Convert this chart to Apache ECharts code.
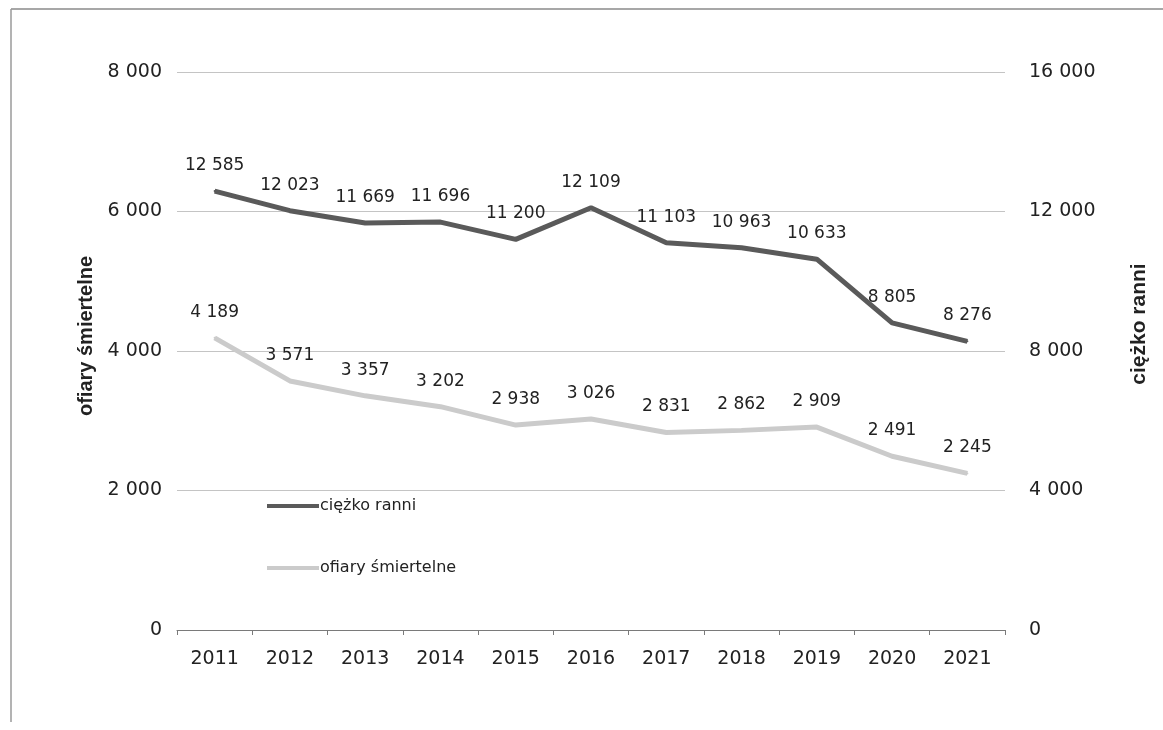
<!DOCTYPE html>
<html>
<head>
<meta charset="utf-8">
<script src="https://cdn.jsdelivr.net/npm/echarts@6/dist/echarts.min.js"></script>
<style>
  html, body { margin: 0; padding: 0; background: #fff; }
  #chart { width: 1163px; height: 730px; }
</style>
</head>
<body>
<div id="chart"></div>
<script>
  // lata
  var years = ['2011', '2012', '2013', '2014', '2015', '2016', '2017', '2018', '2019', '2020', '2021'];
  // ciężko ranni (prawa oś)
  var ciezkoRanni = [12585, 12023, 11669, 11696, 11200, 12109, 11103, 10963, 10633, 8805, 8276];
  // ofiary śmiertelne (lewa oś)
  var ofiarySmiertelne = [4189, 3571, 3357, 3202, 2938, 3026, 2831, 2862, 2909, 2491, 2245];

  function fmt (v) {
    return String(v).replace(/\B(?=(\d{3})+(?!\d))/g, ' ');
  }

  var chart = echarts.init(document.getElementById('chart'));

  var option = {
    animation: false,
    backgroundColor: '#fff',
    textStyle: { fontFamily: 'DejaVu Sans' },
    grid: { left: 177, right: 158, top: 72, bottom: 100, containLabel: false },
    legend: {
      orient: 'vertical',
      left: 262,
      top: 493,
      itemGap: 46,
      itemWidth: 52,
      itemHeight: 4,
      icon: 'rect',
      textStyle: { fontFamily: 'DejaVu Sans', fontSize: 16, color: '#222', padding: [0, 0, 0, -4] },
      data: ['ciężko ranni', 'ofiary śmiertelne']
    },
    graphic: [
      { type: 'line', shape: { x1: 11, y1: 9, x2: 1163, y2: 9 }, style: { stroke: '#8a8a8a', lineWidth: 1.5 } },
      { type: 'line', shape: { x1: 11, y1: 9, x2: 11, y2: 722 }, style: { stroke: '#9a9a9a', lineWidth: 1.5 } }
    ],
    xAxis: {
      type: 'category',
      data: years,
      boundaryGap: true,
      axisLine: { lineStyle: { color: '#7a7a7a', width: 1 } },
      axisTick: { show: true, length: 5, lineStyle: { color: '#7a7a7a' } },
      axisLabel: { color: '#222', fontSize: 19, margin: 20, fontFamily: 'DejaVu Sans' }
    },
    yAxis: [
      {
        type: 'value',
        min: 0,
        max: 8000,
        interval: 2000,
        name: 'ofiary śmiertelne',
        nameLocation: 'middle',
        nameGap: 68,
        nameTextStyle: { fontFamily: 'Liberation Sans', fontWeight: 'bold', fontSize: 20, color: '#222', padding: [0, 0, 0, 30] },
        axisLine: { show: false },
        axisTick: { show: false },
        axisLabel: { color: '#222', fontSize: 19, margin: 15, formatter: fmt },
        splitLine: { lineStyle: { color: '#c4c4c4', width: 1 } }
      },
      {
        type: 'value',
        min: 0,
        max: 16000,
        interval: 4000,
        name: 'ciężko ranni',
        nameLocation: 'middle',
        nameGap: 124,
        nameTextStyle: { fontFamily: 'Liberation Sans', fontWeight: 'bold', fontSize: 21, color: '#222', padding: [0, 0, 0, 54] },
        axisLine: { show: false },
        axisTick: { show: false },
        axisLabel: { color: '#222', fontSize: 19, margin: 24, formatter: fmt },
        splitLine: { show: false }
      }
    ],
    series: [
      {
        name: 'ciężko ranni',
        type: 'line',
        yAxisIndex: 1,
        data: ciezkoRanni,
        showSymbol: true,
        symbol: 'circle',
        symbolSize: 2,
        color: '#5a5a5a',
        itemStyle: { color: '#5a5a5a' },
        lineStyle: { color: '#5a5a5a', width: 5 },
        label: {
          show: true,
          position: 'top',
          distance: 16,
          color: '#222',
          fontSize: 17,
          fontFamily: 'DejaVu Sans',
          formatter: function (p) { return fmt(p.value); }
        }
      },
      {
        name: 'ofiary śmiertelne',
        type: 'line',
        yAxisIndex: 0,
        data: ofiarySmiertelne,
        showSymbol: true,
        symbol: 'circle',
        symbolSize: 2,
        color: '#cbcbcb',
        itemStyle: { color: '#cbcbcb' },
        lineStyle: { color: '#cbcbcb', width: 5 },
        label: {
          show: true,
          position: 'top',
          distance: 16,
          color: '#222',
          fontSize: 17,
          fontFamily: 'DejaVu Sans',
          formatter: function (p) { return fmt(p.value); }
        }
      }
    ]
  };

  chart.setOption(option);
</script>
</body>
</html>
